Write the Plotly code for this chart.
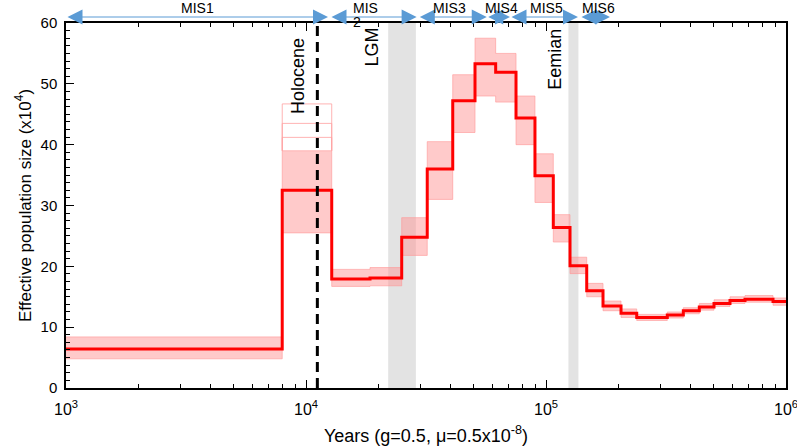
import numpy as np
import plotly.graph_objects as go

# PSMC step edges (years) and Ne (x10^4)
step_edges = [1000, 7960, 12800, 18480, 25050, 32000, 40870, 50600, 61700, 75000,
              89950, 107250, 125900, 147800, 172800, 205400, 238800, 320200, 373400,
              435300, 501200, 584300, 674800, 882800, 1000000]
ne_main = [6.4, 32.5, 17.9, 18.1, 24.8, 36.0, 47.2, 53.3, 51.9, 44.4, 34.9, 26.4,
           20.1, 16.0, 13.5, 12.3, 11.6, 12.0, 12.7, 13.3, 13.9, 14.4, 14.6, 14.2]
# bootstrap envelope (lower / upper) per step
boot_lo = [4.8, 25.5, 16.7, 16.8, 21.8, 31.0, 42.0, 48.0, 47.0, 40.0, 30.5, 24.0,
           18.8, 15.0, 12.7, 11.6, 11.1, 11.5, 12.2, 12.8, 13.4, 13.9, 14.1, 13.6]
boot_hi = [8.4, 39.0, 19.5, 19.8, 28.0, 40.5, 51.5, 57.5, 55.0, 48.0, 38.5, 28.5,
           21.5, 17.2, 14.3, 13.0, 12.1, 12.5, 13.2, 13.9, 14.5, 15.0, 15.2, 14.8]
# sparse bootstrap outliers in the Holocene step
holo_outliers = [41.2, 43.5, 46.7]

# events
holocene_x = 11150
lgm_band = [22000, 28700]
eemian_band = [124000, 136500]

# marine isotope stages (top arrows)
mis_labels = ["MIS1", "MIS 2", "MIS3", "MIS4", "MIS5", "MIS6"]
mis_start = [1000, 12590, 29370, 56650, 70800, 138600]
mis_end = [12350, 28900, 56650, 70800, 135900, 184800]
mis_label_x = [3515, 15550, 39800, 65380, 100700, 164700]

RED = "#FF0000"
PINK = "rgba(255,150,150,0.5)"
BLUE = "#5B9BD5"
FONT = "Liberation Sans, Arial, Helvetica, sans-serif"
NARROW = "Liberation Sans Narrow, Arial Narrow, Liberation Sans, sans-serif"


def steps(vals):
    return list(vals) + [vals[-1]]


fig = go.Figure()

# shaded periods (shapes take raw values on the log axis)
for x0, x1 in (lgm_band, eemian_band):
    fig.add_shape(type="rect", xref="x", yref="y", x0=x0, x1=x1,
                  y0=0, y1=60, fillcolor="#E3E3E3", line_width=0, layer="below")

fig.add_trace(go.Scatter(
    x=step_edges, y=steps(boot_lo), mode="lines", line_shape="hv",
    line=dict(color="rgba(255,150,150,0.6)", width=1), showlegend=False,
))
fig.add_trace(go.Scatter(
    x=step_edges, y=steps(boot_hi), mode="lines", line_shape="hv",
    line=dict(color="rgba(255,150,150,0.6)", width=1), fill="tonexty",
    fillcolor=PINK, showlegend=False,
))
for v in holo_outliers:
    fig.add_trace(go.Scatter(
        x=[step_edges[1], step_edges[1], step_edges[2], step_edges[2]],
        y=[boot_hi[1], v, v, boot_hi[1]], mode="lines",
        line=dict(color="rgba(255,160,160,0.8)", width=1), showlegend=False,
    ))

fig.add_trace(go.Scatter(
    x=step_edges, y=steps(ne_main), mode="lines", line_shape="hv",
    line=dict(color=RED, width=3), showlegend=False,
))

fig.add_shape(type="line", xref="x", yref="y", x0=holocene_x, x1=holocene_x,
              y0=0, y1=60, line=dict(color="black", width=3, dash="10px,6px"))

# event labels
for txt, xv, yv in (("Holocene", 9265, 51.3), ("LGM", 18850, 56.0), ("Eemian", 109000, 54.1)):
    fig.add_annotation(x=np.log10(xv), y=yv, xref="x", yref="y", text=txt,
                       textangle=-90, showarrow=False,
                       font=dict(family=FONT, size=18, color="black"))

# MIS arrows and labels
arrow_y = (388 - 17) / 365
label_y = (388 - 8) / 365
for lab, s, e, lx in zip(mis_labels, mis_start, mis_end, mis_label_x):
    fig.add_annotation(
        x=np.log10(e), y=arrow_y, xref="x", yref="paper",
        ax=np.log10(s), ay=0, axref="x", ayref="pixel", text="",
        showarrow=True, arrowhead=2, arrowsize=3.0, arrowwidth=1,
        arrowcolor=BLUE, arrowside="end+start", startarrowhead=2,
        startarrowsize=3.0, standoff=0, startstandoff=0,
    )
    if " " in lab:
        top, bot = lab.split(" ")
        fig.add_annotation(x=np.log10(lx), y=label_y, xref="x", yref="paper",
                           text=top, showarrow=False, xanchor="left", yanchor="middle",
                           borderpad=0, font=dict(family=FONT, size=14, color="black"))
        fig.add_annotation(x=np.log10(lx), y=(388 - 22) / 365, xref="x", yref="paper",
                           text=bot, showarrow=False, xanchor="left", yanchor="middle",
                           borderpad=0, font=dict(family=FONT, size=14, color="black"))
    else:
        fig.add_annotation(x=np.log10(lx), y=label_y, xref="x", yref="paper",
                           text=lab, showarrow=False, yanchor="middle",
                           borderpad=0, font=dict(family=FONT, size=14, color="black"))

fig.update_layout(
    width=797, height=447, template=None,
    paper_bgcolor="white", plot_bgcolor="white",
    margin=dict(l=66, r=11, t=23, b=59),
    font=dict(family=FONT, color="black", size=14),
    showlegend=False,
)
fig.update_xaxes(
    type="log", range=[3, 6], automargin=False,
    tickvals=[1e3, 1e4, 1e5, 1e6],
    ticktext=["10<sup>3</sup>", "10<sup>4</sup>", "10<sup>5</sup>", "10<sup>6</sup>"],
    tickfont=dict(family=NARROW, size=16), ticklabelstandoff=6,
    ticklabeloverflow="allow",
    ticks="inside", ticklen=8, tickwidth=1, tickcolor="black",
    minor=dict(ticks="inside", ticklen=4, tickcolor="black", dtick="D1", showgrid=False),
    showline=True, linecolor="black", linewidth=1.5, mirror="ticks",
    showgrid=False, zeroline=False,
    title=dict(text="Years (g=0.5, μ=0.5x10<sup>-8</sup>)",
               font=dict(family=NARROW, size=18), standoff=12),
)
fig.update_yaxes(
    range=[0, 60], dtick=10, automargin=False,
    tickfont=dict(family=FONT, size=15), ticklabelstandoff=4,
    ticks="inside", ticklen=8, tickwidth=1, tickcolor="black",
    minor=dict(ticks="inside", ticklen=4, tickcolor="black", dtick=1.25, showgrid=False),
    showline=True, linecolor="black", linewidth=1.5, mirror=True,
    showgrid=False, zeroline=False,
    title=dict(text="Effective population size (x10<sup>4</sup>)",
               font=dict(family=FONT, size=17), standoff=5),
)

# drop the default body margin so the figure sits at the window's corner
fig.write_html("out.html", config={"displayModeBar": False},
               post_script="document.body.style.margin='0px';")
